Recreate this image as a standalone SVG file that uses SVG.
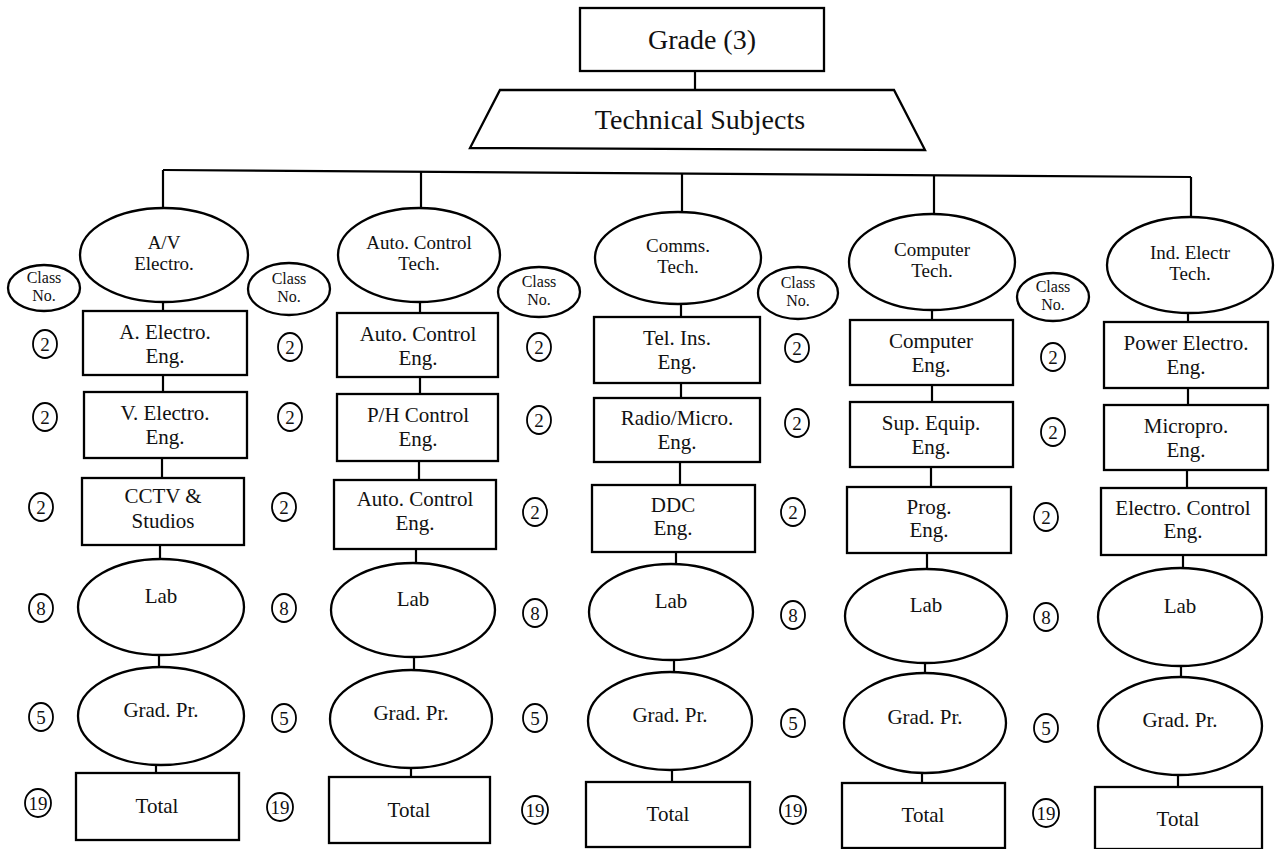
<svg xmlns="http://www.w3.org/2000/svg" width="1275" height="849" viewBox="0 0 1275 849" font-family="'Liberation Serif', 'Times New Roman', serif">
<style>
.s{fill:#fff;stroke:#000;stroke-width:2.3}
.c{stroke:#000;stroke-width:2.2;fill:none}
.t{font-family:"Liberation Serif","Times New Roman",serif;font-size:21px;text-anchor:middle;fill:#111}
.e{font-size:19px}
.h{font-size:28px}
.k{font-size:16px}
.n{fill:#fff;stroke:#000;stroke-width:1.8}
.d{font-size:19px}
</style>
<rect width="1275" height="849" fill="#fff"/>
<g id="connectors">
<line class="c" x1="695" y1="71" x2="695" y2="90"/>
<line class="c" x1="163" y1="170" x2="1191" y2="177"/>
<line class="c" x1="163" y1="170" x2="163" y2="208"/>
<line class="c" x1="421" y1="172" x2="421" y2="208"/>
<line class="c" x1="682" y1="173" x2="682" y2="212"/>
<line class="c" x1="934" y1="175" x2="934" y2="214"/>
<line class="c" x1="1191" y1="177" x2="1191" y2="217"/>
<path class="c" d="M163 302V311M163 375V392M162 458V478M160 545V559M159 655V667M156 765V773"/>
<path class="c" d="M420 302V313M420 377V394M419 461V480M416 549V563M414 657V670M411 768V777"/>
<path class="c" d="M681 304V317M681 383V398M680 462V485M676 552V564M674 660V672M672 770V782"/>
<path class="c" d="M932 310V320M932 385V402M931 467V487M927 553V569M925 663V673M922 773V783"/>
<path class="c" d="M1188 313V322M1188 388V405M1187 470V488M1183 555V568M1181 666V677M1178 775V787"/>
</g>
<g id="grade"><rect class="s" x="580" y="8" width="244" height="63" stroke-width="2.8"/><text class="t h" x="702" y="49">Grade (3)</text></g>
<g id="technical"><polygon class="s" points="500,90 894,90 925,150 470,148" stroke-width="2.8"/><text class="t h" x="700" y="129">Technical Subjects</text></g>

<g id="col1">
<g id="av"><ellipse class="s" cx="164" cy="255" rx="84" ry="47"/><text class="t e" x="164" y="249">A/V</text><text class="t e" x="164" y="270">Electro.</text></g>
<g id="class1"><ellipse class="s" cx="44" cy="288" rx="36" ry="23"/><text class="t k" x="44" y="283">Class</text><text class="t k" x="44" y="301">No.</text></g>
<g id="aelec"><rect class="s" x="83" y="311" width="164" height="64"/><text class="t" x="165" y="339">A. Electro.</text><text class="t" x="165" y="363">Eng.</text></g>
<g id="velec"><rect class="s" x="84" y="392" width="163" height="66"/><text class="t" x="165" y="420">V. Electro.</text><text class="t" x="165" y="444">Eng.</text></g>
<g id="cctv"><rect class="s" x="82" y="478" width="162" height="67"/><text class="t" x="163" y="503">CCTV &amp;</text><text class="t" x="163" y="528">Studios</text></g>
<g id="lab1"><ellipse class="s" cx="161" cy="607" rx="83" ry="48"/><text class="t" x="161" y="603">Lab</text></g>
<g id="grad1"><ellipse class="s" cx="161" cy="716" rx="83" ry="49"/><text class="t" x="161" y="717">Grad. Pr.</text></g>
<g id="total1"><rect class="s" x="76" y="773" width="163" height="67"/><text class="t" x="157" y="813">Total</text></g>
<g id="n1"><ellipse class="n" cx="45" cy="344" rx="12" ry="14"/><text class="t d" x="45" y="351">2</text><ellipse class="n" cx="45" cy="417" rx="12" ry="14"/><text class="t d" x="45" y="424">2</text><ellipse class="n" cx="41" cy="507" rx="12" ry="14"/><text class="t d" x="41" y="514">2</text><ellipse class="n" cx="41" cy="608" rx="12" ry="14"/><text class="t d" x="41" y="615">8</text><ellipse class="n" cx="41" cy="717" rx="12" ry="14"/><text class="t d" x="41" y="724">5</text><ellipse class="n" cx="38" cy="803" rx="13" ry="14"/><text class="t d" x="38" y="810">19</text></g>
</g>

<g id="col2">
<g id="auto"><ellipse class="s" cx="419" cy="255" rx="81" ry="47"/><text class="t e" x="419" y="249">Auto. Control</text><text class="t e" x="419" y="270">Tech.</text></g>
<g id="class2"><ellipse class="s" cx="289" cy="289" rx="41" ry="26"/><text class="t k" x="289" y="284">Class</text><text class="t k" x="289" y="302">No.</text></g>
<g id="autoeng1"><rect class="s" x="337" y="313" width="161" height="64"/><text class="t" x="418" y="341">Auto. Control</text><text class="t" x="418" y="365">Eng.</text></g>
<g id="phcontrol"><rect class="s" x="337" y="394" width="161" height="67"/><text class="t" x="418" y="422">P/H Control</text><text class="t" x="418" y="446">Eng.</text></g>
<g id="autoeng2"><rect class="s" x="334" y="480" width="162" height="69"/><text class="t" x="415" y="506">Auto. Control</text><text class="t" x="415" y="530">Eng.</text></g>
<g id="lab2"><ellipse class="s" cx="413" cy="610" rx="82" ry="47"/><text class="t" x="413" y="606">Lab</text></g>
<g id="grad2"><ellipse class="s" cx="411" cy="719" rx="81" ry="49"/><text class="t" x="411" y="720">Grad. Pr.</text></g>
<g id="total2"><rect class="s" x="329" y="777" width="161" height="66"/><text class="t" x="409" y="817">Total</text></g>
<g id="n2"><ellipse class="n" cx="290" cy="347" rx="12" ry="14"/><text class="t d" x="290" y="354">2</text><ellipse class="n" cx="290" cy="417" rx="12" ry="14"/><text class="t d" x="290" y="424">2</text><ellipse class="n" cx="284" cy="507" rx="12" ry="14"/><text class="t d" x="284" y="514">2</text><ellipse class="n" cx="284" cy="608" rx="12" ry="14"/><text class="t d" x="284" y="615">8</text><ellipse class="n" cx="284" cy="718" rx="12" ry="14"/><text class="t d" x="284" y="725">5</text><ellipse class="n" cx="280" cy="807" rx="13" ry="14"/><text class="t d" x="280" y="814">19</text></g>
</g>

<g id="col3">
<g id="comms"><ellipse class="s" cx="678" cy="258" rx="83" ry="46"/><text class="t e" x="678" y="252">Comms.</text><text class="t e" x="678" y="273">Tech.</text></g>
<g id="class3"><ellipse class="s" cx="539" cy="292" rx="41" ry="25"/><text class="t k" x="539" y="287">Class</text><text class="t k" x="539" y="305">No.</text></g>
<g id="telins"><rect class="s" x="594" y="317" width="166" height="66"/><text class="t" x="677" y="345">Tel. Ins.</text><text class="t" x="677" y="369">Eng.</text></g>
<g id="radio"><rect class="s" x="594" y="398" width="166" height="64"/><text class="t" x="677" y="425">Radio/Micro.</text><text class="t" x="677" y="449">Eng.</text></g>
<g id="ddc"><rect class="s" x="592" y="485" width="163" height="67"/><text class="t" x="673" y="512">DDC</text><text class="t" x="673" y="535">Eng.</text></g>
<g id="lab3"><ellipse class="s" cx="671" cy="612" rx="82" ry="48"/><text class="t" x="671" y="608">Lab</text></g>
<g id="grad3"><ellipse class="s" cx="670" cy="721" rx="82" ry="49"/><text class="t" x="670" y="722">Grad. Pr.</text></g>
<g id="total3"><rect class="s" x="586" y="782" width="164" height="65"/><text class="t" x="668" y="821">Total</text></g>
<g id="n3"><ellipse class="n" cx="539" cy="347" rx="12" ry="14"/><text class="t d" x="539" y="354">2</text><ellipse class="n" cx="539" cy="420" rx="12" ry="14"/><text class="t d" x="539" y="427">2</text><ellipse class="n" cx="535" cy="512" rx="12" ry="14"/><text class="t d" x="535" y="519">2</text><ellipse class="n" cx="535" cy="613" rx="12" ry="14"/><text class="t d" x="535" y="620">8</text><ellipse class="n" cx="535" cy="718" rx="12" ry="14"/><text class="t d" x="535" y="725">5</text><ellipse class="n" cx="535" cy="810" rx="13" ry="14"/><text class="t d" x="535" y="817">19</text></g>
</g>

<g id="col4">
<g id="computer"><ellipse class="s" cx="932" cy="262" rx="83" ry="48"/><text class="t e" x="932" y="256">Computer</text><text class="t e" x="932" y="277">Tech.</text></g>
<g id="class4"><ellipse class="s" cx="798" cy="293" rx="40" ry="26"/><text class="t k" x="798" y="288">Class</text><text class="t k" x="798" y="306">No.</text></g>
<g id="compeng"><rect class="s" x="850" y="320" width="163" height="65"/><text class="t" x="931" y="348">Computer</text><text class="t" x="931" y="372">Eng.</text></g>
<g id="supequip"><rect class="s" x="850" y="402" width="163" height="65"/><text class="t" x="931" y="430">Sup. Equip.</text><text class="t" x="931" y="454">Eng.</text></g>
<g id="prog"><rect class="s" x="847" y="487" width="164" height="66"/><text class="t" x="929" y="514">Prog.</text><text class="t" x="929" y="537">Eng.</text></g>
<g id="lab4"><ellipse class="s" cx="926" cy="616" rx="81" ry="47"/><text class="t" x="926" y="612">Lab</text></g>
<g id="grad4"><ellipse class="s" cx="925" cy="723" rx="81" ry="50"/><text class="t" x="925" y="724">Grad. Pr.</text></g>
<g id="total4"><rect class="s" x="842" y="783" width="163" height="65"/><text class="t" x="923" y="822">Total</text></g>
<g id="n4"><ellipse class="n" cx="797" cy="348" rx="12" ry="14"/><text class="t d" x="797" y="355">2</text><ellipse class="n" cx="797" cy="423" rx="12" ry="14"/><text class="t d" x="797" y="430">2</text><ellipse class="n" cx="793" cy="512" rx="12" ry="14"/><text class="t d" x="793" y="519">2</text><ellipse class="n" cx="793" cy="615" rx="12" ry="14"/><text class="t d" x="793" y="622">8</text><ellipse class="n" cx="793" cy="723" rx="12" ry="14"/><text class="t d" x="793" y="730">5</text><ellipse class="n" cx="793" cy="810" rx="13" ry="14"/><text class="t d" x="793" y="817">19</text></g>
</g>

<g id="col5">
<g id="indelectr"><ellipse class="s" cx="1190" cy="265" rx="83" ry="48"/><text class="t e" x="1190" y="259">Ind. Electr</text><text class="t e" x="1190" y="280">Tech.</text></g>
<g id="class5"><ellipse class="s" cx="1053" cy="297" rx="36" ry="24"/><text class="t k" x="1053" y="292">Class</text><text class="t k" x="1053" y="310">No.</text></g>
<g id="powerelec"><rect class="s" x="1104" y="322" width="164" height="66"/><text class="t" x="1186" y="350">Power Electro.</text><text class="t" x="1186" y="374">Eng.</text></g>
<g id="micropro"><rect class="s" x="1104" y="405" width="164" height="65"/><text class="t" x="1186" y="433">Micropro.</text><text class="t" x="1186" y="457">Eng.</text></g>
<g id="electrocontrol"><rect class="s" x="1101" y="488" width="165" height="67"/><text class="t" x="1183" y="515">Electro. Control</text><text class="t" x="1183" y="538">Eng.</text></g>
<g id="lab5"><ellipse class="s" cx="1180" cy="617" rx="82" ry="49"/><text class="t" x="1180" y="613">Lab</text></g>
<g id="grad5"><ellipse class="s" cx="1180" cy="726" rx="82" ry="49"/><text class="t" x="1180" y="727">Grad. Pr.</text></g>
<g id="total5"><rect class="s" x="1095" y="787" width="167" height="62"/><text class="t" x="1178" y="826">Total</text></g>
<g id="n5"><ellipse class="n" cx="1053" cy="357" rx="12" ry="14"/><text class="t d" x="1053" y="364">2</text><ellipse class="n" cx="1053" cy="432" rx="12" ry="14"/><text class="t d" x="1053" y="439">2</text><ellipse class="n" cx="1046" cy="517" rx="12" ry="14"/><text class="t d" x="1046" y="524">2</text><ellipse class="n" cx="1046" cy="617" rx="12" ry="14"/><text class="t d" x="1046" y="624">8</text><ellipse class="n" cx="1046" cy="728" rx="12" ry="14"/><text class="t d" x="1046" y="735">5</text><ellipse class="n" cx="1046" cy="813" rx="13" ry="14"/><text class="t d" x="1046" y="820">19</text></g>
</g>
</svg>
